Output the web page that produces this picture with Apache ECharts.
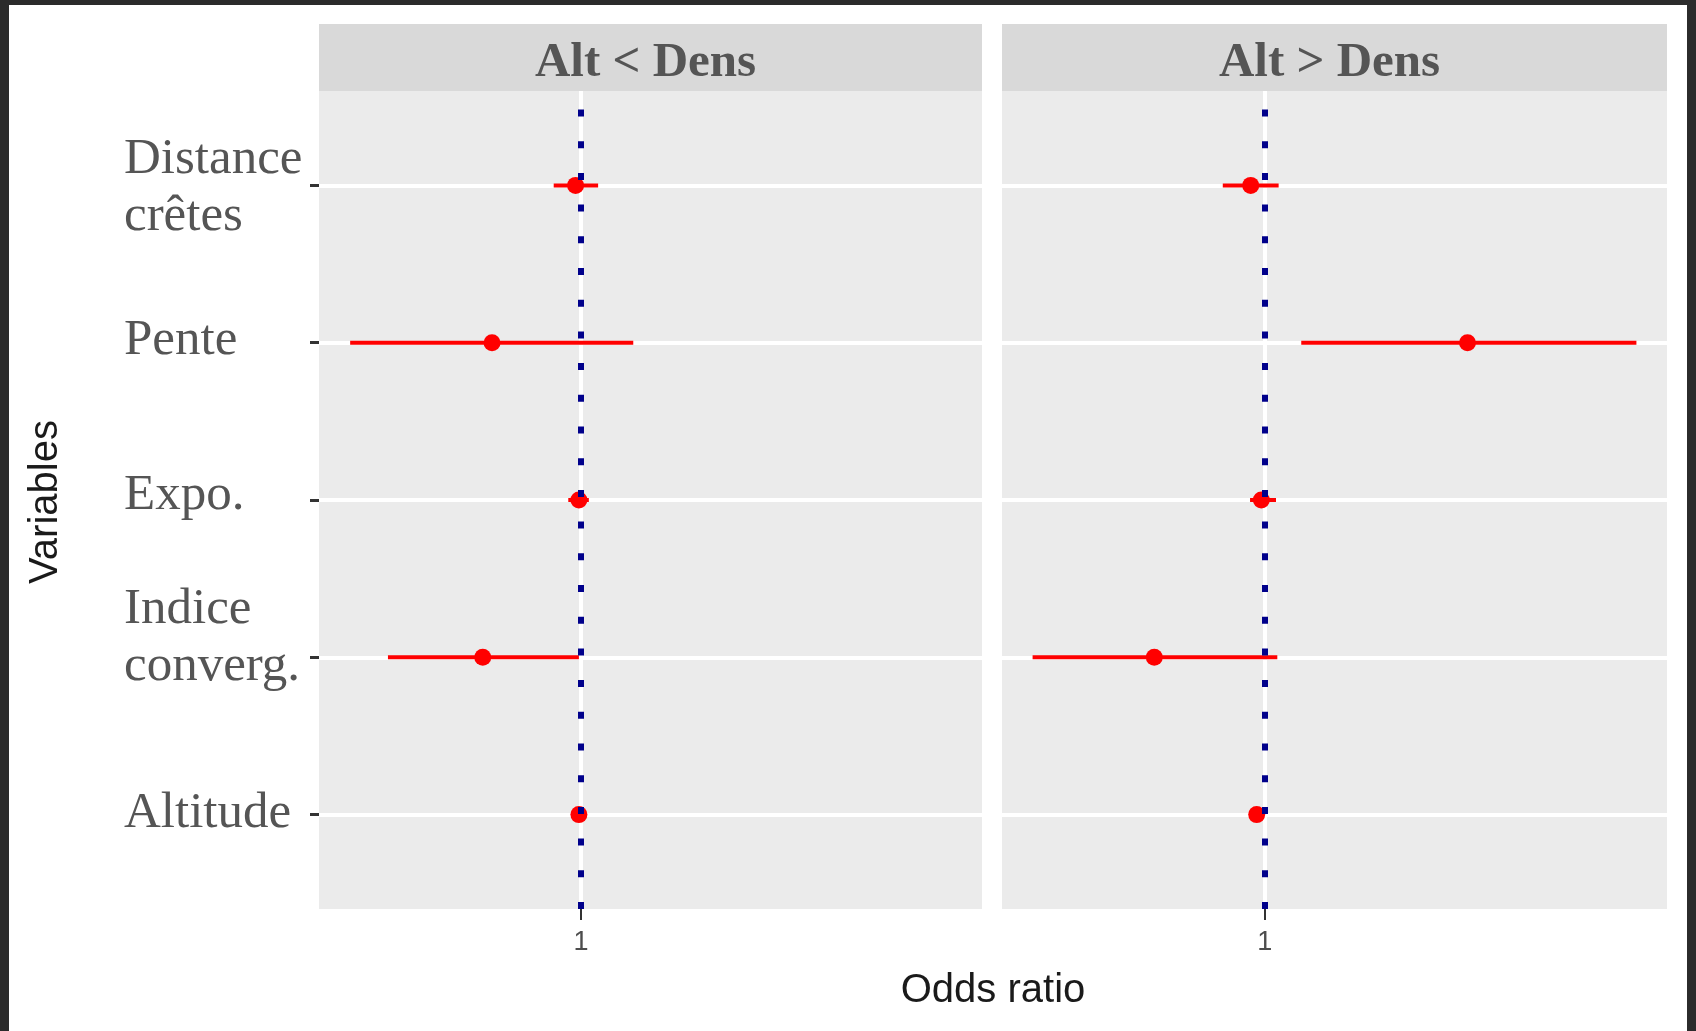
<!DOCTYPE html>
<html>
<head>
<meta charset="utf-8">
<title>Odds ratio</title>
<script src="https://cdn.jsdelivr.net/npm/echarts@6/dist/echarts.min.js"></script>
<style>
  html, body { margin: 0; padding: 0; background: #ffffff; }
  #chart { width: 1696px; height: 1031px; }
</style>
</head>
<body>
<div id="chart"></div>
<script>
// ---- data ----
const variables = ['Distance\ncrêtes', 'Pente', 'Expo.', 'Indice\nconverg.', 'Altitude'];
const panelTitles = ['Alt < Dens', 'Alt > Dens'];
const xTickValues = [1];
const refLine = 1;

// Alt < Dens : odds ratio and confidence interval
const orAltLtDens   = [0.992, 0.866, 0.997, 0.852, 0.997];
const loAltLtDens   = [0.959, 0.652, 0.981, 0.709, 0.995];
const hiAltLtDens   = [1.026, 1.079, 1.012, 0.997, 0.999];

// Alt > Dens : odds ratio and confidence interval
const orAltGtDens   = [0.979, 1.305, 0.995, 0.834, 0.988];
const loAltGtDens   = [0.937, 1.055, 0.978, 0.651, 0.986];
const hiAltGtDens   = [1.021, 1.559, 1.017, 1.019, 0.990];

// ---- layout / style ----
const panels = [
  { left: 319, width: 663, or: orAltLtDens, lo: loAltLtDens, hi: hiAltLtDens },
  { left: 1002, width: 665, or: orAltGtDens, lo: loAltGtDens, hi: hiAltGtDens }
];
const W = 1696, H = 1031;
const panelTop = 91, panelHeight = 818;
const stripTop = 24, stripHeight = 67;
const xMin = 0.605, xMax = 1.605;
const yMin = 0.4, yMax = 5.6;
const panelBg = '#ebebeb', stripBg = '#d9d9d9';
const red = '#ff0000', navy = '#00008b';
// vertical nudge of each y label, px (negative = up)
const labelNudge = [3, -2, -4, -19, -1];

const yRich = {
  t: { fontFamily: '"Liberation Serif", "DejaVu Serif", serif', fontSize: 51, lineHeight: 57, color: '#555555' }
};
labelNudge.forEach((n, i) => {
  yRich['g' + i] = { fontSize: 1, lineHeight: Math.max(1, Math.abs(n) * 2) };
});

function yLabel(v) {
  const i = Math.round(v) - 1;
  if (i < 0 || i >= variables.length) return '';
  const body = variables[i].split('\n').map(s => '{t|' + s + '}').join('\n');
  const n = labelNudge[i];
  if (n < 0) return body + '\n{g' + i + '| }';
  if (n > 0) return '{g' + i + '| }\n' + body;
  return body;
}

const grids = [], xAxes = [], yAxes = [], series = [];
panels.forEach((p, k) => {
  grids.push({
    left: p.left, top: panelTop, width: p.width, height: panelHeight,
    show: true, backgroundColor: panelBg, borderWidth: 0, containLabel: false
  });
  xAxes.push({
    type: 'value', gridIndex: k, min: xMin, max: xMax,
    axisLine: { show: false },
    axisTick: { show: true, customValues: xTickValues, length: 11, lineStyle: { color: '#333333', width: 2 } },
    axisLabel: {
      show: true, customValues: xTickValues, margin: 20,
      formatter: v => String(Math.round(v * 100) / 100),
      fontFamily: '"Liberation Sans", Arial, sans-serif', fontSize: 27, color: '#4d4d4d'
    },
    splitLine: { show: true, lineStyle: { color: '#ffffff', width: 4 } }
  });
  yAxes.push({
    type: 'value', gridIndex: k, min: yMin, max: yMax, inverse: true,
    axisLine: { show: false },
    axisTick: {
      show: k === 0, customValues: [1, 2, 3, 4, 5], length: 9,
      lineStyle: { color: '#333333', width: 3 }
    },
    axisLabel: {
      show: k === 0, customValues: [1, 2, 3, 4, 5],
      align: 'left', margin: 195, formatter: yLabel, rich: yRich
    },
    splitLine: { show: true, lineStyle: { color: '#ffffff', width: 4 } }
  });

  // confidence interval bars
  series.push({
    type: 'custom', xAxisIndex: k, yAxisIndex: k, z: 3,
    data: p.or.map((_, i) => [p.lo[i], p.hi[i], i + 1]),
    encode: { x: [0, 1], y: 2 },
    renderItem: (params, api) => {
      const a = api.coord([api.value(0), api.value(2)]);
      const b = api.coord([api.value(1), api.value(2)]);
      return {
        type: 'line',
        shape: { x1: a[0], y1: a[1], x2: b[0], y2: b[1] },
        style: { stroke: red, lineWidth: 4 }
      };
    }
  });
  // point estimates + reference line at OR = 1
  series.push({
    type: 'scatter', xAxisIndex: k, yAxisIndex: k, z: 4,
    data: p.or.map((v, i) => [v, i + 1]),
    symbol: 'circle', symbolSize: 17,
    itemStyle: { color: red, opacity: 1 },
    markLine: {
      silent: true, symbol: ['none', 'none'], label: { show: false },
      lineStyle: { color: navy, width: 6, type: [7, 24.7], cap: 'butt', opacity: 1 },
      emphasis: { disabled: true },
      data: [[{ coord: [refLine, yMax] }, { coord: [refLine, yMin] }]]
    }
  });
});

const graphics = [];
panels.forEach((p, k) => {
  graphics.push({
    type: 'rect', shape: { x: p.left, y: stripTop, width: p.width, height: stripHeight },
    style: { fill: stripBg }, silent: true
  });
  graphics.push({
    type: 'text', x: p.left + p.width / 2 - 5, y: stripTop + stripHeight / 2 + 6,
    style: {
      text: panelTitles[k], align: 'center', verticalAlign: 'middle',
      fontFamily: '"Liberation Serif", "DejaVu Serif", serif', fontWeight: 'bold',
      fontSize: 49, fill: '#555555'
    }, silent: true
  });
});
graphics.push({
  type: 'text', x: 993, y: 991,
  style: {
    text: 'Odds ratio', align: 'center', verticalAlign: 'middle',
    fontFamily: '"Liberation Sans", Arial, sans-serif', fontSize: 40, fill: '#1a1a1a'
  }, silent: true
});
graphics.push({
  type: 'text', x: 46, y: 502, rotation: Math.PI / 2,
  style: {
    text: 'Variables', align: 'center', verticalAlign: 'middle',
    fontFamily: '"Liberation Sans", Arial, sans-serif', fontSize: 40, fill: '#1a1a1a'
  }, silent: true
});
// dark frame around the figure
const frame = '#2b2b2b';
graphics.push({ type: 'rect', shape: { x: 0, y: 0, width: 9, height: H }, style: { fill: frame }, silent: true, z: 100 });
graphics.push({ type: 'rect', shape: { x: 0, y: 0, width: W, height: 5 }, style: { fill: frame }, silent: true, z: 100 });
graphics.push({ type: 'rect', shape: { x: 1687, y: 0, width: 9, height: H }, style: { fill: frame }, silent: true, z: 100 });

const chart = echarts.init(document.getElementById('chart'), null, { renderer: 'canvas' });
chart.setOption({
  animation: false,
  backgroundColor: '#ffffff',
  grid: grids,
  xAxis: xAxes,
  yAxis: yAxes,
  series: series,
  graphic: graphics
});
</script>
</body>
</html>
